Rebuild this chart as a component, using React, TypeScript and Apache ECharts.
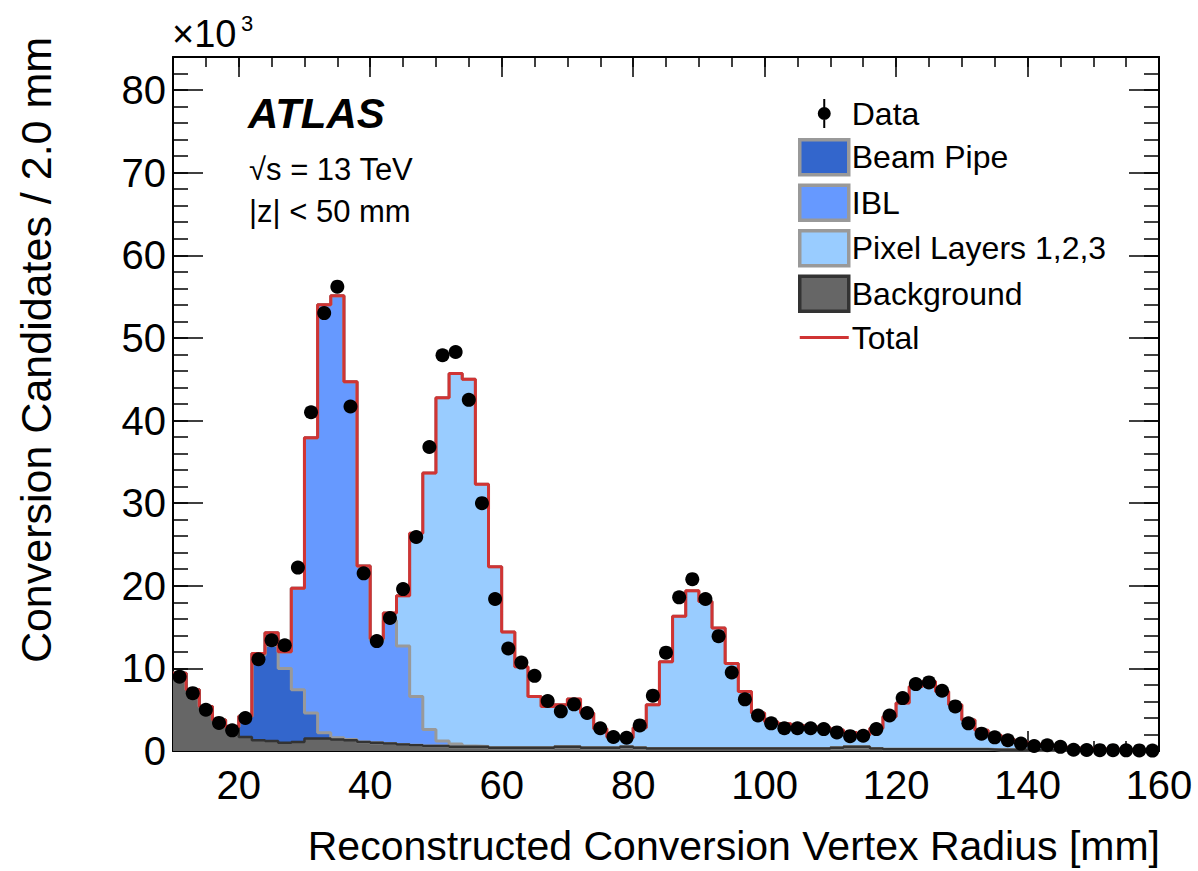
import React, { useEffect, useRef } from 'react';
import * as echarts from 'echarts';

// ---- Data (x10^3 conversion candidates per 2 mm bin) ----
const binWidth = 2;
const binLowEdges = [
  10, 12, 14, 16, 18, 20, 22, 24, 26, 28, 30, 32, 34, 36, 38, 40, 42, 44, 46, 48,
  50, 52, 54, 56, 58, 60, 62, 64, 66, 68, 70, 72, 74, 76, 78, 80, 82, 84, 86, 88,
  90, 92, 94, 96, 98, 100, 102, 104, 106, 108, 110, 112, 114, 116, 118, 120, 122, 124, 126, 128,
  130, 132, 134, 136, 138, 140, 142, 144, 146, 148, 150, 152, 154, 156, 158,
];

const background = [
  9.4, 7.4, 5.4, 3.75, 2.9, 1.7, 1.3, 1.2, 1.0, 1.1,
  1.5, 1.5, 1.4, 1.3, 1.1, 1.0, 0.9, 0.8, 0.7, 0.6,
  0.6, 0.5, 0.5, 0.5, 0.4, 0.4, 0.4, 0.4, 0.4, 0.5,
  0.5, 0.4, 0.4, 0.4, 0.5, 0.4, 0.3, 0.3, 0.3, 0.3,
  0.3, 0.3, 0.3, 0.3, 0.3, 0.3, 0.3, 0.3, 0.3, 0.3,
  0.4, 0.5, 0.5, 0.3, 0.2, 0.2, 0.2, 0.2, 0.2, 0.2,
  0.2, 0.2, 0.15, 0.15, 0.15, 0.1, 0.1, 0.1, 0.1, 0.1,
  0.1, 0.08, 0.08, 0.06, 0.05,
];

const beamPipe = [
  0, 0, 0, 0, 0, 2.5, 10.3, 11.6, 9.0, 6.3,
  3.1, 0.7, 0.2, 0.1, 0, 0, 0, 0, 0, 0,
  0, 0, 0, 0, 0, 0, 0, 0, 0, 0,
  0, 0, 0, 0, 0, 0, 0, 0, 0, 0,
  0, 0, 0, 0, 0, 0, 0, 0, 0, 0,
  0, 0, 0, 0, 0, 0, 0, 0, 0, 0,
  0, 0, 0, 0, 0, 0, 0, 0, 0, 0,
  0, 0, 0, 0, 0,
];

const ibl = [
  0, 0, 0, 0, 0, 0, 0.2, 1.5, 2.0, 12.3,
  33.3, 51.8, 53.5, 43.3, 21.3, 12.4, 14.9, 11.9, 5.9, 2.0,
  0.6, 0.35, 0.1, 0.05, 0, 0, 0, 0, 0, 0,
  0, 0, 0, 0, 0, 0, 0, 0, 0, 0,
  0, 0, 0, 0, 0, 0, 0, 0, 0, 0,
  0, 0, 0, 0, 0, 0, 0, 0, 0, 0,
  0, 0, 0, 0, 0, 0, 0, 0, 0, 0,
  0, 0, 0, 0, 0,
];

const pixelLayers = [
  0, 0, 0, 0, 0, 0, 0, 0, 0, 0,
  0, 0, 0, 0, 0, 0.2, 0.9, 6.1, 19.75, 31.05,
  41.55, 44.85, 44.4, 31.75, 21.9, 14.0, 9.8, 6.2, 5.0, 5.1,
  5.8, 4.2, 2.3, 1.3, 1.1, 2.4, 5.3, 10.5, 16.0, 19.1,
  17.8, 14.6, 10.3, 6.9, 4.3, 3.25, 3.0, 2.8, 2.65, 2.5,
  2.15, 1.75, 1.45, 2.45, 3.95, 5.6, 7.6, 8.2, 7.0, 5.4,
  3.55, 2.3, 1.75, 1.25, 0.95, 0.7, 0.5, 0.4, 0.3, 0.2,
  0.15, 0.12, 0.07, 0.06, 0.05,
];

const dataValues = [
  9.0, 7.0, 5.0, 3.4, 2.5, 4.0, 11.1, 13.4, 12.8, 22.2,
  41.0, 53.0, 56.2, 41.7, 21.5, 13.3, 16.1, 19.6, 25.9, 36.8,
  47.9, 48.3, 42.5, 30.0, 18.4, 12.4, 10.7, 9.1, 6.05, 4.8,
  5.65, 4.6, 2.75, 1.7, 1.6, 3.1, 6.7, 11.9, 18.6, 20.8,
  18.4, 13.9, 9.5, 6.25, 4.3, 3.35, 2.75, 2.75, 2.75, 2.65,
  2.25, 1.8, 1.85, 2.65, 4.3, 6.4, 8.1, 8.3, 7.3, 5.4,
  3.35, 2.1, 1.65, 1.3, 0.9, 0.6, 0.7, 0.5, 0.15, 0.12,
  0.1, 0.1, 0.08, 0.07, 0.05,
];

const xMajorTicks = [20, 40, 60, 80, 100, 120, 140, 160];
const yMajorTicks = [0, 10, 20, 30, 40, 50, 60, 70, 80];

// ---- Styling ----
const FONT = '"Liberation Sans", Arial, Helvetica, sans-serif';
const C_BP = '#3366cc';
const C_IBL = '#6699ff';
const C_PIX = '#99ccff';
const C_BG = '#666666';
const C_RED = '#d03434';
const C_EDGE = '#999999';

function cumulative(layers: number[][]): number[] {
  return layers[0].map((_, i) => layers.reduce((s, l) => s + l[i], 0));
}

function histPoints(values: number[]): number[][] {
  const pts = values.map((v, i) => [binLowEdges[i], v]);
  const n = values.length;
  pts.push([binLowEdges[n - 1] + binWidth, values[n - 1]]);
  return pts;
}

function histSeries(name: string, values: number[], fill: string, edge: string, edgeWidth: number) {
  return {
    name,
    type: 'line',
    step: 'end',
    data: histPoints(values),
    showSymbol: false,
    symbol: 'none',
    color: fill,
    lineStyle: { color: edge, width: edgeWidth },
    areaStyle: { color: fill, opacity: 1 },
    silent: true,
    xAxisIndex: 0,
    yAxisIndex: 0,
  };
}

const tickLine = { color: '#000', width: 1.5 };

function xAxisDef(position: 'top' | 'bottom', major: boolean, withLabels: boolean) {
  const base: any = {
    type: 'value',
    min: 10,
    max: 160,
    position,
    splitLine: { show: false },
    axisLine: { show: major, onZero: false, lineStyle: { color: '#000', width: 2 } },
  };
  if (major) {
    base.axisTick = { show: true, inside: true, length: 20, customValues: xMajorTicks, lineStyle: tickLine };
    base.axisLabel = withLabels
      ? { show: true, customValues: xMajorTicks, margin: 14, fontSize: 40, color: '#000', fontFamily: FONT }
      : { show: false };
  } else {
    base.interval = 5;
    base.axisTick = { show: true, inside: true, length: 10, lineStyle: tickLine };
    base.axisLabel = { show: false };
  }
  return base;
}

function yAxisDef(position: 'left' | 'right', major: boolean, withLabels: boolean) {
  const base: any = {
    type: 'value',
    min: 0,
    max: 84,
    position,
    splitLine: { show: false },
    axisLine: { show: major, onZero: false, lineStyle: { color: '#000', width: 2 } },
  };
  if (major) {
    base.axisTick = { show: true, inside: true, length: 30, customValues: yMajorTicks, lineStyle: tickLine };
    base.axisLabel = withLabels
      ? { show: true, customValues: yMajorTicks, margin: 7, fontSize: 40, color: '#000', fontFamily: FONT }
      : { show: false };
  } else {
    base.interval = 2;
    base.axisTick = { show: true, inside: true, length: 15, lineStyle: tickLine };
    base.axisLabel = { show: false };
  }
  return base;
}

// legend icons (49x35 box): dot with vertical error bar; thin red line
const dataIcon =
  'path://M0,0M49,35M23.5,3h2v9h-2zM23.5,23h2v9h-2zM18,17.5a6.5,6.5 0 1,1 13,0a6.5,6.5 0 1,1 -13,0z';
const lineIcon = 'path://M0,0M49,35M0,16h49v3h-49z';

export default function App() {
  const ref = useRef<HTMLDivElement>(null);

  useEffect(() => {
    document.body.style.margin = '0';
    document.body.style.overflow = 'hidden';
    const chart = echarts.init(ref.current as HTMLDivElement, null, { renderer: 'svg' });

    const cumBg = cumulative([background]);
    const cumBp = cumulative([background, beamPipe]);
    const cumIbl = cumulative([background, beamPipe, ibl]);
    const cumAll = cumulative([background, beamPipe, ibl, pixelLayers]);

    const option: any = {
      animation: false,
      backgroundColor: '#ffffff',
      grid: { left: 173, right: 39, top: 57, bottom: 120, containLabel: false, outerBoundsMode: 'none' },
      xAxis: [
        xAxisDef('bottom', true, true),
        xAxisDef('bottom', false, false),
        xAxisDef('top', true, false),
        xAxisDef('top', false, false),
      ],
      yAxis: [
        yAxisDef('left', true, true),
        yAxisDef('left', false, false),
        yAxisDef('right', true, false),
        yAxisDef('right', false, false),
      ],
      legend: {
        orient: 'vertical',
        left: 793,
        top: 91,
        itemWidth: 49,
        itemHeight: 35,
        itemGap: 7,
        selectedMode: false,
        textStyle: { fontSize: 32, lineHeight: 35, color: '#000', fontFamily: FONT, padding: [0, 0, 0, -2] },
        data: [
          { name: 'Data', icon: dataIcon, itemStyle: { color: '#000', borderWidth: 0, opacity: 1 } },
          { name: 'Beam Pipe', icon: 'rect', itemStyle: { color: C_BP, borderColor: C_EDGE, borderWidth: 3.5 } },
          { name: 'IBL', icon: 'rect', itemStyle: { color: C_IBL, borderColor: C_EDGE, borderWidth: 3.5 } },
          { name: 'Pixel Layers 1,2,3', icon: 'rect', itemStyle: { color: C_PIX, borderColor: C_EDGE, borderWidth: 3.5 } },
          { name: 'Background', icon: 'rect', itemStyle: { color: C_BG, borderColor: '#333', borderWidth: 3.5 } },
          { name: 'Total', icon: lineIcon, itemStyle: { color: C_RED, borderWidth: 0 } },
        ],
      },
      series: [
        histSeries('Pixel Layers 1,2,3', cumAll, C_PIX, C_EDGE, 3),
        histSeries('IBL', cumIbl, C_IBL, C_EDGE, 3),
        histSeries('Beam Pipe', cumBp, C_BP, C_EDGE, 3),
        histSeries('Background', cumBg, C_BG, '#333333', 2.5),
        {
          name: 'Total',
          type: 'line',
          step: 'end',
          data: histPoints(cumAll),
          showSymbol: false,
          symbol: 'none',
          color: C_RED,
          lineStyle: { color: C_RED, width: 3 },
          silent: true,
        },
        {
          name: 'Data',
          type: 'scatter',
          data: dataValues.map((v, i) => [binLowEdges[i] + binWidth / 2, v]),
          symbol: 'circle',
          symbolSize: 14,
          itemStyle: { color: '#000', opacity: 1 },
          silent: true,
          z: 5,
        },
      ],
      graphic: [
        {
          type: 'text',
          x: 172,
          y: 53,
          style: { text: '×10', font: `38px ${FONT}`, fill: '#000', textAlign: 'left', textVerticalAlign: 'bottom' },
        },
        {
          type: 'text',
          x: 241,
          y: 34,
          style: { text: '3', font: `22px ${FONT}`, fill: '#000', textAlign: 'left', textVerticalAlign: 'bottom' },
        },
        {
          type: 'text',
          x: 248,
          y: 113,
          style: { text: 'ATLAS', font: `italic bold 42px ${FONT}`, fill: '#000', textAlign: 'left', textVerticalAlign: 'middle' },
        },
        {
          type: 'text',
          x: 249,
          y: 169,
          style: { text: '√s = 13 TeV', font: `31px ${FONT}`, fill: '#000', textAlign: 'left', textVerticalAlign: 'middle' },
        },
        {
          type: 'text',
          x: 249,
          y: 211,
          style: { text: '|z| < 50 mm', font: `31px ${FONT}`, fill: '#000', textAlign: 'left', textVerticalAlign: 'middle' },
        },
        {
          type: 'text',
          x: 1160,
          y: 846,
          style: {
            text: 'Reconstructed Conversion Vertex Radius [mm]',
            font: `41px ${FONT}`,
            fill: '#000',
            textAlign: 'right',
            textVerticalAlign: 'middle',
          },
        },
        {
          type: 'text',
          x: 36,
          y: 350,
          rotation: Math.PI / 2,
          style: {
            text: 'Conversion Candidates / 2.0 mm',
            font: `43px ${FONT}`,
            fill: '#000',
            textAlign: 'center',
            textVerticalAlign: 'middle',
          },
        },
      ],
    };

    chart.setOption(option);
    return () => chart.dispose();
  }, []);

  return <div ref={ref} style={{ width: 1198, height: 871 }} />;
}
